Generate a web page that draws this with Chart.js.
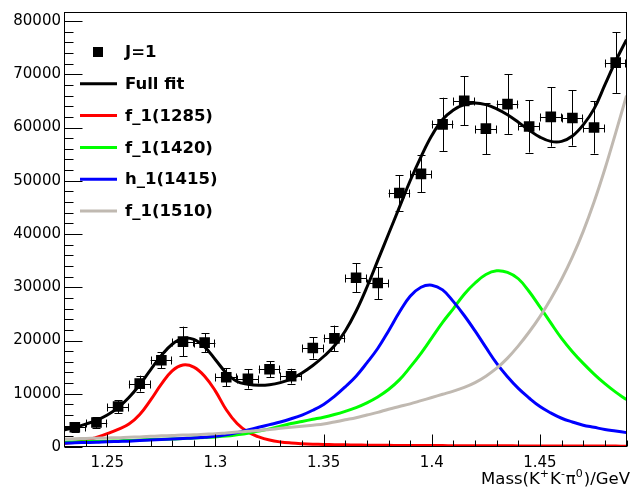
<!DOCTYPE html>
<html>
<head>
<meta charset="utf-8">
<script src="https://cdn.jsdelivr.net/npm/chart.js@4.4.0/dist/chart.umd.min.js"></script>
<style>
  html, body { margin: 0; padding: 0; background: #fff; }
  #wrap { width: 634px; height: 489px; }
</style>
</head>
<body>
<div id="wrap"><canvas id="grafico"></canvas></div>
<script>
// datos: J=1, bins de 0.01 GeV
const dataX = [1.235, 1.245, 1.255, 1.265, 1.275, 1.285, 1.295, 1.305, 1.315, 1.325, 1.335, 1.345, 1.355,
  1.365, 1.375, 1.385, 1.395, 1.405, 1.415, 1.425, 1.435, 1.445, 1.455, 1.465, 1.475, 1.485];
const dataY = [3700, 4600, 7600, 11900, 16300, 19800, 19600, 13100, 12800, 14600, 13300, 18600, 20400,
  31800, 30800, 47700, 51300, 60600, 65000, 59800, 64400, 60200, 62000, 61800, 60000, 72200];
const dataErr = [900, 1000, 1200, 1500, 1500, 2800, 1800, 1700, 1850, 1500, 1400, 2000, 2400,
  2700, 3000, 3300, 3500, 5000, 4600, 4800, 5600, 4900, 5600, 5200, 4900, 5700];
const binHalf = 0.005;

// curvas del ajuste
const fitX = [1.230, 1.235, 1.240, 1.245, 1.250, 1.255, 1.260, 1.265, 1.270, 1.275, 1.280, 1.285, 1.290,
  1.295, 1.300, 1.305, 1.310, 1.315, 1.320, 1.325, 1.330, 1.335, 1.340, 1.345, 1.350, 1.355, 1.360,
  1.365, 1.370, 1.375, 1.380, 1.385, 1.390, 1.395, 1.400, 1.405, 1.410, 1.415, 1.420, 1.425, 1.430,
  1.435, 1.440, 1.445, 1.450, 1.455, 1.460, 1.465, 1.470, 1.475, 1.480, 1.485, 1.490];
const fullFit = [3200, 3700, 4300, 5000, 6000, 7400, 9300, 11700, 14500, 17200, 19300, 20400, 20200,
  18800, 16400, 13900, 12300, 11800, 11600, 11700, 12100, 12800, 13900, 15300, 17000, 19000, 21800,
  25500, 30000, 35000, 40000, 45000, 50000, 54500, 58500, 61500, 63300, 64300, 64600, 64300, 63500,
  62400, 61000, 59500, 58200, 57400, 57400, 58400, 60500, 63500, 68000, 72500, 76500];
const f1285 = [700, 900, 1200, 1800, 2500, 3300, 4300, 6100, 8800, 11800, 14300, 15400, 15000,
  13300, 10500, 7000, 4400, 2800, 1900, 1300, 950, 750, 620, 530, 470, 430, 400,
  370, 350, 330, 310, 300, 290, 280, 270, 260, 250, 240, 230, 225, 220,
  215, 210, 205, 200, 195, 190, 185, 180, 175, 170, 165, 160];
const f1420 = [900, 950, 1000, 1050, 1100, 1150, 1200, 1300, 1400, 1450, 1500, 1600, 1700,
  1800, 1900, 2050, 2300, 2600, 3000, 3400, 3900, 4400, 4800, 5200, 5600, 6100, 6700,
  7400, 8300, 9400, 10800, 12600, 15000, 17600, 20500, 23400, 26000, 28700, 30800, 32400, 33100,
  32800, 31600, 29200, 26300, 23300, 20400, 17900, 15700, 13700, 11900, 10300, 8900];
const h1415 = [700, 800, 850, 900, 1000, 1050, 1100, 1200, 1300, 1400, 1500, 1600, 1700,
  1850, 2000, 2300, 2700, 3200, 3700, 4200, 4700, 5300, 6000, 6900, 8000, 9500, 11300,
  13300, 15800, 18500, 21800, 25300, 28300, 30000, 30400, 29500, 27300, 24700, 21800, 18700, 15700,
  13200, 11000, 9200, 7600, 6400, 5400, 4700, 4100, 3700, 3300, 3000, 2700];
const f1510 = [1500, 1550, 1600, 1650, 1700, 1750, 1850, 1900, 2000, 2100, 2150, 2250, 2300,
  2400, 2500, 2650, 2800, 2950, 3100, 3300, 3500, 3700, 3900, 4100, 4300, 4700, 5100,
  5500, 6000, 6500, 7100, 7600, 8100, 8700, 9300, 9900, 10500, 11200, 12100, 13300, 14800,
  16700, 19000, 21600, 24500, 27800, 31500, 35700, 40500, 46000, 52200, 59000, 66000];

const xTicks = [1.25, 1.3, 1.35, 1.4, 1.45];
const yTicks = [0, 10000, 20000, 30000, 40000, 50000, 60000, 70000, 80000];
const legendLabels = ['J=1', 'Full fit', 'f_1(1285)', 'f_1(1420)', 'h_1(1415)', 'f_1(1510)'];

const colores = ['#000000', '#000000', '#ff0000', '#00ff00', '#0000ff', '#c0b9b1'];
const FONT = '"DejaVu Sans", sans-serif';

function curva(arr) {
  return fitX.map((x, i) => ({ x: x, y: arr[i] }));
}

function lineaCurva(label, arr, color, orden) {
  return {
    label: label,
    data: curva(arr),
    showLine: true,
    borderColor: color,
    borderWidth: 3,
    pointRadius: 0,
    tension: 0.4,
    order: orden
  };
}

const marcoPlugin = {
  id: 'marco',
  beforeDatasetsDraw(chart) {
    // barras de error
    const ctx = chart.ctx, xs = chart.scales.x, ys = chart.scales.y;
    ctx.save();
    ctx.strokeStyle = '#000';
    ctx.lineWidth = 1;
    ctx.beginPath();
    dataX.forEach((x, i) => {
      const px = Math.round(xs.getPixelForValue(x)) + 0.5;
      const py = Math.round(ys.getPixelForValue(dataY[i])) + 0.5;
      const top = ys.getPixelForValue(dataY[i] + dataErr[i]);
      const bot = ys.getPixelForValue(dataY[i] - dataErr[i]);
      const left = xs.getPixelForValue(x - binHalf);
      const right = Math.min(xs.getPixelForValue(x + binHalf), chart.chartArea.right - 1);
      ctx.moveTo(px, top); ctx.lineTo(px, bot);
      ctx.moveTo(px - 4, Math.round(top) + 0.5); ctx.lineTo(px + 4, Math.round(top) + 0.5);
      ctx.moveTo(px - 4, Math.round(bot) + 0.5); ctx.lineTo(px + 4, Math.round(bot) + 0.5);
      ctx.moveTo(left, py); ctx.lineTo(right, py);
      ctx.moveTo(Math.round(left) + 0.5, py - 4); ctx.lineTo(Math.round(left) + 0.5, py + 4);
      ctx.moveTo(Math.round(right) - 0.5, py - 4); ctx.lineTo(Math.round(right) - 0.5, py + 4);
    });
    ctx.stroke();
    ctx.restore();
  },
  afterDraw(chart) {
    const ctx = chart.ctx, xs = chart.scales.x, ys = chart.scales.y;
    const a = chart.chartArea;
    ctx.save();
    ctx.strokeStyle = '#000';
    ctx.lineWidth = 1;
    // marco
    ctx.strokeRect(Math.round(a.left) + 0.5, Math.round(a.top) + 0.5,
      Math.round(a.right - a.left) - 1, Math.round(a.bottom - a.top) - 1);
    // ticks hacia dentro
    ctx.beginPath();
    const yb = Math.round(a.bottom) - 0.5;
    for (let v = 1.23; v <= 1.4901; v += 0.01) {
      const px = Math.round(xs.getPixelForValue(v)) + 0.5;
      const major = xTicks.some(t => Math.abs(t - v) < 1e-6);
      ctx.moveTo(px, yb); ctx.lineTo(px, yb - (major ? 12 : 6));
    }
    const xl = Math.round(a.left) + 0.5;
    for (let v = 0; v <= ys.max; v += 2000) {
      const py = Math.round(ys.getPixelForValue(v)) + 0.5;
      const major = v % 10000 === 0;
      ctx.moveTo(xl, py); ctx.lineTo(xl + (major ? 18 : 9), py);
    }
    ctx.stroke();

    // leyenda
    ctx.fillStyle = '#000';
    ctx.font = 'bold 16.5px ' + FONT;
    ctx.textBaseline = 'middle';
    ctx.textAlign = 'left';
    legendLabels.forEach((lab, i) => {
      const y = 52 + i * 31.8;
      if (i === 0) {
        ctx.fillStyle = '#000';
        ctx.fillRect(93, y - 5, 10, 10);
      } else {
        ctx.strokeStyle = colores[i];
        ctx.lineWidth = 3;
        ctx.beginPath();
        ctx.moveTo(80, y); ctx.lineTo(117, y);
        ctx.stroke();
      }
      ctx.fillStyle = '#000';
      ctx.fillText(lab, 125, y + 1);
    });

    // titulo eje x
    const partes = [['Mass(K', 0], ['+', 1], ['K', 0], ['-', 1], ['\u03c0', 0], ['0', 1], [')/GeV', 0]];
    const fMain = '16.5px ' + FONT, fSup = '11px ' + FONT;
    let total = 0;
    partes.forEach(p => { ctx.font = p[1] ? fSup : fMain; total += ctx.measureText(p[0]).width + (p[1] ? 1 : 0); });
    let x = 630 - total;
    ctx.textBaseline = 'alphabetic';
    partes.forEach(p => {
      ctx.font = p[1] ? fSup : fMain;
      ctx.fillText(p[0], x, p[1] ? 477 : 484);
      x += ctx.measureText(p[0]).width + (p[1] ? 1 : 0);
    });
    ctx.restore();
  }
};

new Chart(document.getElementById('grafico'), {
  type: 'scatter',
  data: {
    datasets: [
      {
        label: 'J=1',
        data: dataX.map((x, i) => ({ x: x, y: dataY[i] })),
        pointStyle: 'rect',
        pointRadius: 7.5,
        backgroundColor: '#000',
        borderColor: '#000',
        borderWidth: 0,
        order: 6
      },
      lineaCurva('Full fit', fullFit, colores[1], 5),
      lineaCurva('f_1(1285)', f1285, colores[2], 4),
      lineaCurva('f_1(1420)', f1420, colores[3], 3),
      lineaCurva('h_1(1415)', h1415, colores[4], 2),
      lineaCurva('f_1(1510)', f1510, colores[5], 1)
    ]
  },
  options: {
    responsive: true,
    maintainAspectRatio: false,
    animation: false,
    events: [],
    layout: { padding: { left: 0, top: 7, right: 1, bottom: 0 } },
    plugins: { legend: { display: false }, tooltip: { enabled: false } },
    scales: {
      x: {
        type: 'linear',
        min: 1.23,
        max: 1.49,
        grid: { display: false, drawTicks: false },
        border: { display: false },
        afterBuildTicks: s => { s.ticks = xTicks.map(v => ({ value: v })); },
        afterFit: s => { s.height = 42; },
        ticks: {
          color: '#000',
          font: { family: FONT, size: 15 },
          padding: 7,
          maxRotation: 0,
          callback: v => String(v)
        }
      },
      y: {
        min: 0,
        max: 81700,
        grid: { display: false, drawTicks: false },
        border: { display: false },
        afterBuildTicks: s => { s.ticks = yTicks.map(v => ({ value: v })); },
        afterFit: s => { s.width = 64; },
        ticks: {
          color: '#000',
          font: { family: FONT, size: 15 },
          padding: 3,
          callback: v => String(v)
        }
      }
    }
  },
  plugins: [marcoPlugin]
});
</script>
</body>
</html>
